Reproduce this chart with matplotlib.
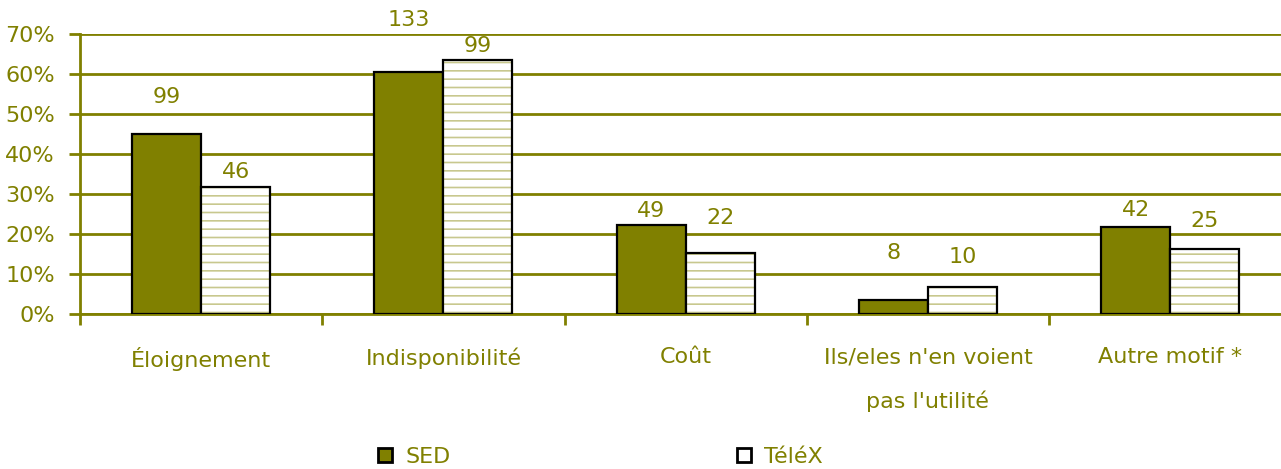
import matplotlib
matplotlib.use("Agg")
import matplotlib.pyplot as plt
from matplotlib.patches import Patch
import numpy as np

categories = ["Éloignement", "Indisponibilité", "Coût",
              "Ils/eles n'en voient\npas l'utilité", "Autre motif *"]
sed_pct = [45.0, 60.5, 22.2, 3.5, 21.8]
telex_pct = [31.7, 63.5, 15.2, 6.8, 16.3]
sed_counts = [99, 133, 49, 8, 42]
telex_counts = [46, 99, 22, 10, 25]
# vertical position (in %) of the count labels as seen in the picture
sed_label_pos = [54.3, 73.5, 25.8, 15.3, 26.0]
telex_label_pos = [35.5, 67.0, 24.0, 14.3, 23.3]
yticks = [0, 10, 20, 30, 40, 50, 60, 70]
series_names = ["SED", "TéléX"]

OLIVE = "#808000"
HATCH = "#c8c88e"

plt.rcParams['font.family'] = ['DejaVu Sans']
plt.rcParams['hatch.linewidth'] = 1.2

fig = plt.figure(figsize=(12.81, 4.69), dpi=100)
W, H = 1281, 469
ax = fig.add_axes([80 / W, 155 / H, 1211.25 / W, 280 / H])

x = np.arange(len(categories))
bw = 0.285
b1 = ax.bar(x - bw / 2, sed_pct, bw, color=OLIVE, edgecolor="black",
            linewidth=1.6, zorder=3, label=series_names[0])
# hatch layer (edge colour drives the hatch colour)
ax.bar(x + bw / 2, telex_pct, bw, color="white", edgecolor=HATCH,
       linewidth=0, hatch="--", zorder=3)
b2 = ax.bar(x + bw / 2, telex_pct, bw, fill=False, edgecolor="black",
            linewidth=1.6, zorder=4, label=series_names[1])

fs = 16
for i in range(len(categories)):
    ax.text(x[i] - bw / 2, sed_label_pos[i], str(sed_counts[i]), ha="center",
            va="center", color=OLIVE, fontsize=fs, clip_on=False)
    ax.text(x[i] + bw / 2, telex_label_pos[i], str(telex_counts[i]), ha="center",
            va="center", color=OLIVE, fontsize=fs, clip_on=False)

ax.set_xlim(-0.5, len(categories) - 0.5)
ax.set_ylim(0, 70)
ax.set_yticks(yticks)
ax.set_yticklabels([f"{v}%" for v in yticks], color=OLIVE, fontsize=fs)
ax.yaxis.grid(True, color=OLIVE, linewidth=2, zorder=0)
ax.set_axisbelow(True)

ax.set_xticks(x)
ax.set_xticklabels(categories, color=OLIVE, fontsize=fs, linespacing=2.3)
ax.tick_params(axis="x", length=0, pad=24)
ax.set_xticks(np.arange(-0.5, len(categories), 1.0), minor=True)
ax.tick_params(axis="x", which="minor", length=8, width=2, color=OLIVE, direction="out")
ax.tick_params(axis="y", length=8, width=2, color=OLIVE, pad=10)

for s in ["top", "right"]:
    ax.spines[s].set_visible(False)
ax.spines["left"].set_color(OLIVE)
ax.spines["left"].set_linewidth(2)
ax.spines["bottom"].set_color(OLIVE)
ax.spines["bottom"].set_linewidth(2)

h1 = Patch(facecolor=OLIVE, edgecolor="black", linewidth=2)
h2 = Patch(facecolor="white", edgecolor="black", linewidth=2)
leg = fig.legend(handles=[h1, h2], labels=series_names, loc="center left",
                 bbox_to_anchor=(378 / W, 12 / H), ncol=2, frameon=False,
                 borderpad=0, borderaxespad=0, handlelength=0.62, handleheight=0.62,
                 handletextpad=0.6, columnspacing=12.9, fontsize=fs)
for t in leg.get_texts():
    t.set_color(OLIVE)

fig.savefig("out.png", dpi=100)
